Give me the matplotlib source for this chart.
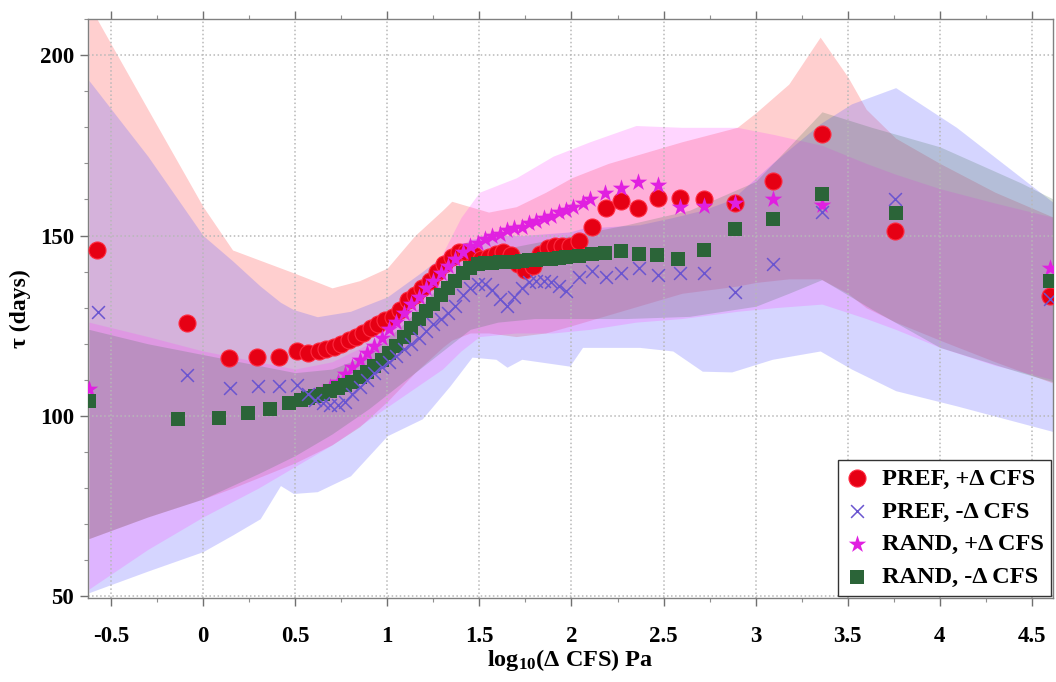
import matplotlib
matplotlib.use("Agg")
import matplotlib.pyplot as plt
from matplotlib.ticker import MultipleLocator

plt.rcParams['font.family'] = ['Liberation Serif', 'DejaVu Serif']
plt.rcParams['font.weight'] = 'bold'
plt.rcParams['mathtext.fontset'] = 'custom'
plt.rcParams['mathtext.rm'] = 'Liberation Serif:bold'
plt.rcParams['mathtext.it'] = 'Liberation Serif:bold:italic'
plt.rcParams['mathtext.bf'] = 'Liberation Serif:bold'
plt.rcParams['mathtext.default'] = 'rm'

# ---------------- data ----------------
pref_pos_x = [-0.575, -0.09, 0.14, 0.295, 0.41, 0.51, 0.57, 0.63, 0.67, 0.71, 0.75, 0.79, 0.83, 0.87,
              0.91, 0.95, 0.99, 1.03, 1.07, 1.11, 1.15, 1.19, 1.23, 1.27, 1.31, 1.35, 1.39, 1.43,
              1.47, 1.51, 1.55, 1.59, 1.63, 1.67, 1.71, 1.75, 1.79, 1.83, 1.87, 1.91, 1.95, 1.99,
              2.04, 2.11, 2.19, 2.27, 2.36, 2.47, 2.59, 2.72, 2.89, 3.095, 3.36, 3.757, 4.60]
pref_pos_y = [146.0, 125.8, 116.0, 116.3, 116.2, 118.0, 117.5, 118.0, 118.5, 119.0, 120.0, 121.0, 122.0, 123.0,
              124.5, 125.5, 126.5, 127.5, 129.5, 132.0, 133.5, 135.5, 137.5, 140.0, 142.0, 144.0, 145.5, 145.5,
              144.5, 143.5, 144.0, 145.0, 145.5, 144.5, 142.0, 140.5, 141.5, 145.0, 146.5, 147.0, 147.0, 147.0,
              148.5, 152.5, 157.5, 159.5, 157.5, 160.5, 160.5, 160.0, 159.0, 165.0, 178.2, 151.3, 133.3]

pref_neg_x = [-0.57, -0.088, 0.145, 0.297, 0.411, 0.509, 0.57, 0.61, 0.65, 0.69, 0.73, 0.77, 0.81, 0.85,
              0.89, 0.93, 0.97, 1.01, 1.05, 1.09, 1.13, 1.17, 1.21, 1.25, 1.29, 1.33, 1.37, 1.41, 1.45,
              1.49, 1.53, 1.57, 1.61, 1.65, 1.69, 1.73, 1.77, 1.81, 1.85, 1.89, 1.93, 1.97,
              2.04, 2.11, 2.19, 2.27, 2.365, 2.47, 2.59, 2.72, 2.89, 3.095, 3.36, 3.757, 4.60]
pref_neg_y = [128.7, 111.3, 107.7, 108.3, 108.3, 108.6, 106.0, 104.5, 103.5, 103.0, 103.0, 104.0, 106.0, 108.0,
              110.0, 112.0, 113.5, 115.0, 116.5, 118.5, 120.0, 121.5, 123.5, 125.5, 127.0, 128.5, 130.5, 133.5, 135.5,
              136.5, 136.5, 135.0, 132.5, 130.5, 133.0, 135.5, 137.0, 137.5, 137.5, 137.0, 136.0, 134.5,
              138.5, 140.2, 138.5, 139.5, 141.0, 139.0, 139.5, 139.5, 134.3, 142.0, 156.5, 160.0, 132.5]

rand_pos_x = [-0.62, 0.61, 0.65, 0.69, 0.73, 0.77, 0.81, 0.85, 0.89, 0.93, 0.97, 1.01, 1.05, 1.09, 1.13,
              1.17, 1.21, 1.25, 1.29, 1.33, 1.37, 1.41, 1.45, 1.49, 1.53, 1.57, 1.61, 1.65, 1.69, 1.73,
              1.77, 1.81, 1.85, 1.89, 1.93, 1.97, 2.01, 2.06, 2.10, 2.18, 2.27, 2.36, 2.47, 2.59, 2.72,
              2.89, 3.095, 3.36, 4.60]
rand_pos_y = [107.5, 105.5, 106.5, 108.0, 109.5, 111.5, 113.5, 115.5, 117.5, 119.5, 121.5, 124.0, 126.0, 128.5, 131.0,
              133.0, 135.5, 137.5, 139.5, 141.5, 143.5, 145.5, 147.0, 148.0, 149.0, 150.0, 150.5, 151.5, 152.0, 152.5,
              153.5, 154.0, 155.0, 155.5, 156.5, 157.0, 158.0, 159.0, 160.0, 161.9, 163.3, 164.9, 164.0, 157.8, 158.3,
              159.0, 160.0, 158.6, 141.0]

rand_neg_x = [-0.62, -0.137, 0.086, 0.243, 0.362, 0.465, 0.53, 0.57, 0.61, 0.65, 0.69, 0.73, 0.77, 0.81,
              0.85, 0.89, 0.93, 0.97, 1.01, 1.05, 1.09, 1.13, 1.17, 1.21, 1.25, 1.29, 1.33, 1.37, 1.41,
              1.45, 1.49, 1.53, 1.57, 1.61, 1.65, 1.69, 1.73, 1.77, 1.81, 1.85, 1.89, 1.93, 1.97,
              2.04, 2.11, 2.18, 2.27, 2.365, 2.465, 2.58, 2.72, 2.89, 3.095, 3.36, 3.76, 4.60]
rand_neg_y = [104.1, 99.2, 99.4, 100.8, 101.9, 103.6, 104.5, 105.0, 105.5, 106.2, 107.0, 107.8, 108.6, 109.5,
              110.8, 112.2, 113.8, 115.5, 117.5, 119.5, 122.0, 124.5, 127.0, 129.0, 131.0, 133.5, 135.5, 137.5, 139.5,
              141.0, 142.0, 142.3, 142.5, 142.6, 142.7, 142.8, 143.0, 143.2, 143.3, 143.4, 143.6, 143.8, 144.0,
              144.3, 145.0, 145.3, 145.7, 144.8, 144.5, 143.6, 146.0, 151.8, 154.6, 161.6, 156.2, 137.4]

# uncertainty bands
band_pref_pos_x = [-0.62, -0.3, 0.0, 0.16, 0.5, 0.7, 0.85, 1.0, 1.15, 1.3, 1.35, 1.45, 1.55, 1.7, 1.86,
                   2.0, 2.2, 2.4, 2.6, 2.9, 3.0, 3.18, 3.35, 3.5, 3.6, 3.76, 4.0, 4.3, 4.62]
band_pref_pos_hi = [214, 185, 158, 146, 139.5, 135.5, 137.5, 141, 150, 157, 159.5, 158, 156.5, 158, 162,
                    166, 170, 173, 176, 180, 184, 192, 205, 194, 185, 177, 170, 162, 155]
band_pref_pos_lo = [66, 72, 77, 80, 87, 92, 97, 104, 112, 119, 121, 123, 123, 122, 123,
                    125, 128, 131, 134, 136, 137, 138, 138, 134, 130, 126, 121, 115, 109]

band_pref_neg_x = [-0.62, -0.3, 0.0, 0.16, 0.31, 0.42, 0.49, 0.62, 0.8, 1.0, 1.19, 1.34, 1.46, 1.59, 1.65,
                   1.73, 1.99, 2.06, 2.37, 2.55, 2.71, 2.87, 3.09, 3.35, 3.52, 3.76, 4.09, 4.62]
band_pref_neg_hi = [193, 172, 150, 143, 136, 131.5, 129.5, 127.5, 129, 133, 140, 146, 149, 150, 150,
                    150, 151, 152, 153, 155, 157, 160, 170, 181, 186.5, 191, 180, 159]
band_pref_neg_lo = [51, 57, 62.4, 67, 71.5, 80.7, 78.5, 79, 83.4, 94.5, 99.2, 108.3, 116.3, 115.7, 113.5,
                    115.7, 113.8, 119, 119, 118, 112.4, 112.2, 115.7, 118, 113, 107, 102.8, 95.6]

band_rand_pos_x = [-0.62, -0.3, 0.0, 0.3, 0.5, 0.7, 0.9, 1.1, 1.3, 1.4, 1.5, 1.7, 1.9, 2.1, 2.35,
                   2.6, 2.9, 3.1, 3.36, 3.6, 3.76, 4.0, 4.3, 4.62]
band_rand_pos_hi = [126, 122, 118, 115, 113, 115, 120, 130, 145, 155, 162, 166, 172, 176, 180.5,
                    180, 180, 178, 175, 170, 167, 163, 159, 155]
band_rand_pos_lo = [52, 63, 72, 80, 86, 92, 99, 106, 113, 118, 122, 123, 123, 124, 126,
                    127, 129, 130, 131, 127, 124, 119, 114, 110]

band_rand_neg_x = [-0.62, -0.3, 0.0, 0.3, 0.5, 0.7, 0.9, 1.1, 1.3, 1.45, 1.6, 1.8, 2.0, 2.3, 2.64,
                   3.0, 3.18, 3.36, 3.63, 4.0, 4.44, 4.62]
band_rand_neg_hi = [124, 120, 117, 114, 112, 113, 117, 126, 137, 143, 146, 148, 150, 153, 157,
                    165, 174.6, 184.3, 180, 174.6, 164.6, 160]
band_rand_neg_lo = [66, 72, 77, 84, 89, 95, 102, 110, 118, 124, 126, 127, 127, 127, 127.6,
                    130.4, 134, 137.8, 129.6, 119, 112, 109.4]

labels = ['PREF, +Δ CFS', 'PREF, -Δ CFS', 'RAND, +Δ CFS', 'RAND, -Δ CFS']

# ---------------- plot ----------------
fig = plt.figure(figsize=(10.56, 6.82), dpi=100)
ax = fig.add_axes([0.0833, 0.123, 0.914, 0.849])

ax.fill_between(band_pref_pos_x, band_pref_pos_lo, band_pref_pos_hi, color='#ff6060', alpha=0.30, lw=0, zorder=1)
ax.fill_between(band_pref_neg_x, band_pref_neg_lo, band_pref_neg_hi, color='#6060ff', alpha=0.26, lw=0, zorder=1)
ax.fill_between(band_rand_pos_x, band_rand_pos_lo, band_rand_pos_hi, color='#ff40ff', alpha=0.22, lw=0, zorder=1)
ax.fill_between(band_rand_neg_x, band_rand_neg_lo, band_rand_neg_hi, color='#407050', alpha=0.22, lw=0, zorder=1)

ax.scatter(pref_pos_x, pref_pos_y, s=150, marker='o', facecolor='#e60014', edgecolor='#ff2a40',
           linewidths=0.8, zorder=3, label=labels[0])
ax.scatter(rand_pos_x, rand_pos_y, s=175, marker='*', color='#e020e0', linewidths=0, zorder=4, label=labels[2])
ax.scatter(rand_neg_x, rand_neg_y, s=95, marker='s', color='#2b6438', linewidths=0, zorder=5, label=labels[3])
ax.scatter(pref_neg_x, pref_neg_y, s=85, marker='x', color='#6a55d0', linewidths=1.1, zorder=6, label=labels[1])

ax.set_xlim(-0.625, 4.615)
ax.set_ylim(49.5, 210)

ax.xaxis.set_minor_locator(MultipleLocator(0.25))
ax.yaxis.set_minor_locator(MultipleLocator(10))
ax.set_xticks([-0.5, 0, 0.5, 1, 1.5, 2, 2.5, 3, 3.5, 4, 4.5])
ax.set_xticklabels(['-0.5', '0', '0.5', '1', '1.5', '2', '2.5', '3', '3.5', '4', '4.5'])
ax.set_yticks([50, 100, 150, 200])

ax.tick_params(axis='both', which='major', direction='out', length=6, width=1, color='#707070',
               labelsize=16.5, top=True, labeltop=False)
ax.tick_params(axis='x', which='major', pad=14)
ax.tick_params(axis='y', which='major', pad=4)
ax.tick_params(axis='both', which='minor', direction='out', length=3, width=0.8, color='#909090', top=True)
for lab in ax.get_xticklabels() + ax.get_yticklabels():
    lab.set_fontweight('bold')

ax.set_axisbelow('line')
ax.grid(True, which='major', color='#b8b8b8', linestyle=':', linewidth=1.1)

for sp in ax.spines.values():
    sp.set_color('#808080')
    sp.set_linewidth(1.0)

ax.set_xlabel(r'log$_{10}$(Δ CFS) Pa', fontsize=17.5, fontweight='bold', labelpad=0)
ax.set_ylabel('τ (days)', fontsize=17, fontweight='bold', labelpad=6)

handles, labs = ax.get_legend_handles_labels()
order = [labs.index(l) for l in labels]
leg = ax.legend([handles[i] for i in order], [labs[i] for i in order], loc='lower right',
                fontsize=17.5, frameon=True, fancybox=False, edgecolor='#333333', framealpha=1,
                borderaxespad=0.1, handlelength=1.0, handletextpad=0.5, labelspacing=0.45,
                borderpad=0.3, scatterpoints=1)
leg.get_frame().set_linewidth(1.0)
for t in leg.get_texts():
    t.set_fontweight('bold')

fig.savefig('out.png', dpi=100)
